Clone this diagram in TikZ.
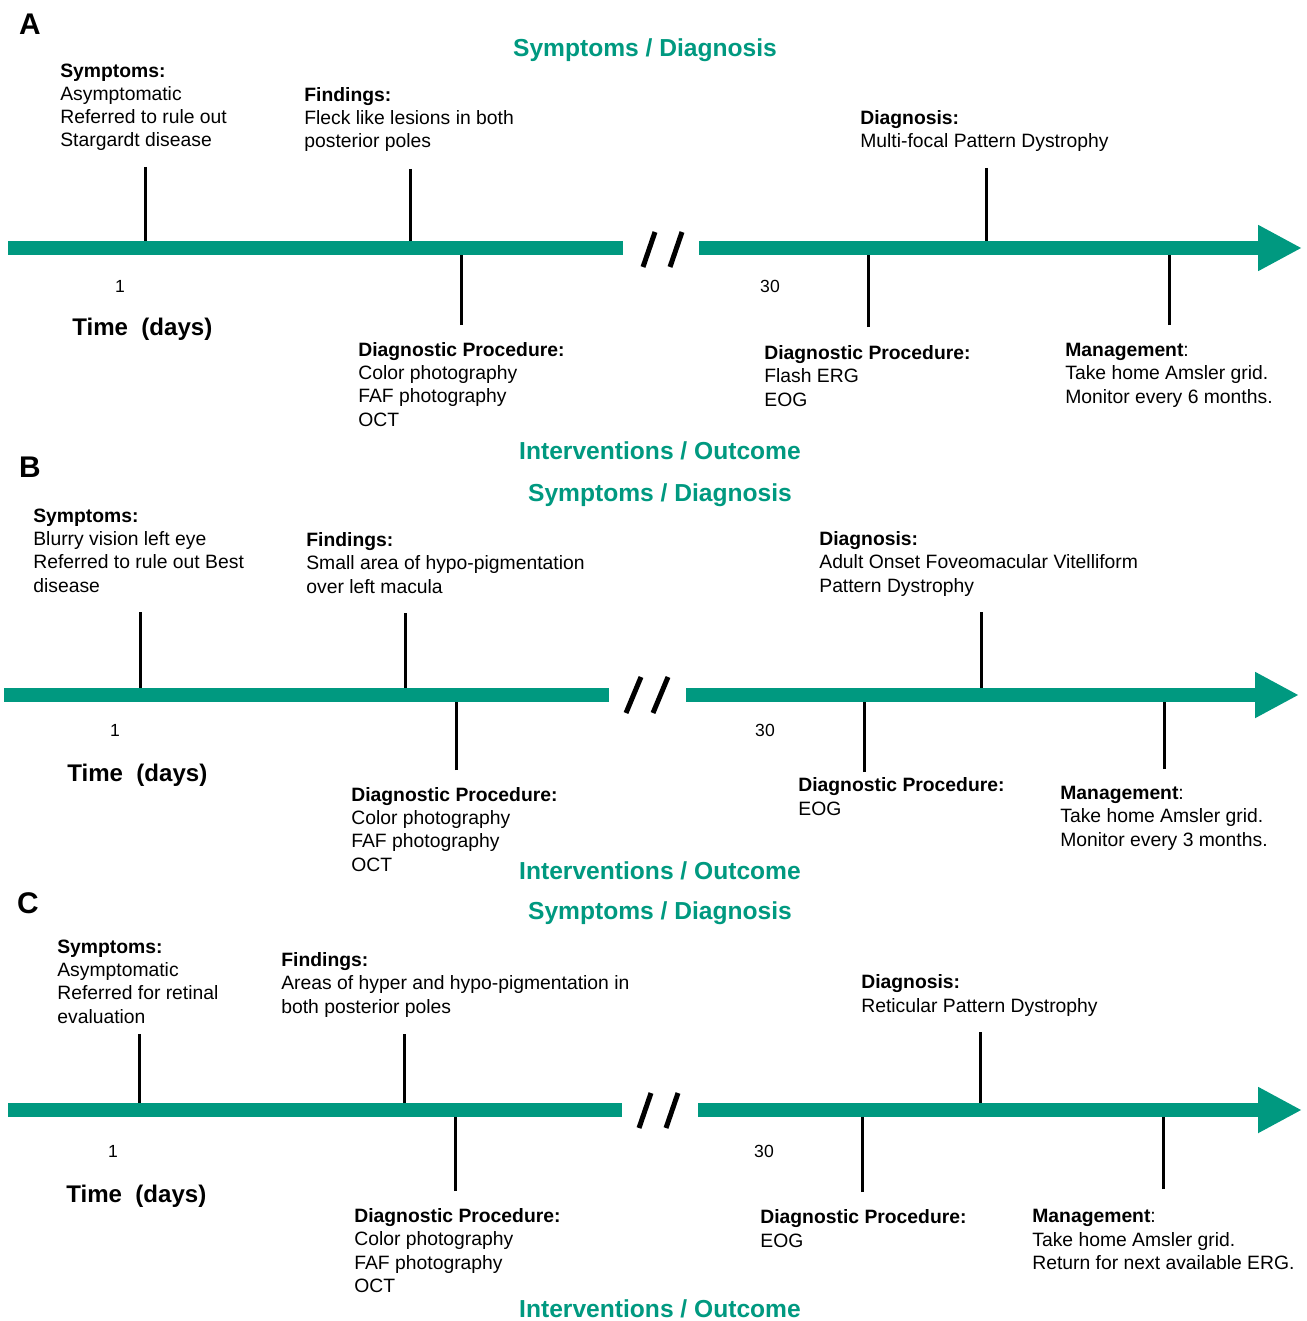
\documentclass[tikz,border=0pt]{standalone}
\usepackage{fontspec}
\setmainfont{Liberation Sans}
\usetikzlibrary{arrows.meta}
\definecolor{tlgreen}{RGB}{0,153,128}
\tikzstyle{bar} = [
    draw=tlgreen, line width=0.28cm
]
\tikzstyle{arrowbar} = [
    draw=tlgreen, line width=0.28cm,
    -{Triangle[width=0.86cm, length=0.88cm]}
]
\tikzstyle{tick} = [draw=black, line width=0.06cm]
\tikzstyle{slash} = [draw=black, line width=0.1cm]
% placed at the baseline of the last line
\tikzstyle{info} = [
    align=left, anchor=base west, inner sep=0pt,
    font=\fontsize{11}{13.1}\selectfont
]
\tikzstyle{phase} = [
    inner sep=0pt, text=tlgreen,
    font=\fontsize{14}{16}\selectfont\bfseries
]
\tikzstyle{panel} = [inner sep=0pt, font=\fontsize{17}{20}\selectfont\bfseries]
\tikzstyle{daynum} = [inner sep=0pt, font=\fontsize{10}{12}\selectfont]
\tikzstyle{timelabel} = [
    anchor=base west, inner sep=0pt,
    font=\fontsize{13.7}{16}\selectfont\bfseries
]

\begin{document}
\begin{tikzpicture}[x=0.02cm, y=-0.02cm]
    \useasboundingbox (0,0) rectangle (1307,1321);

    % ---------------- Panel A ----------------
    \node (labA) [panel] at (30,24) {A};
    \node (symdiagA) [phase] at (645,50) {Symptoms / Diagnosis};
    \node (intoutA) [phase] at (660,451) {Interventions / Outcome};

    \node (sympA) [info] at (60,147) {\textbf{Symptoms:}\\Asymptomatic\\Referred to rule out\\Stargardt disease};
    \node (findA) [info] at (304,148) {\textbf{Findings:}\\Fleck like lesions in both\\posterior poles};
    \node (diagA) [info] at (860,148) {\textbf{Diagnosis:}\\Multi-focal Pattern Dystrophy};
    \node (procA) [info] at (358,426) {\textbf{Diagnostic Procedure:}\\Color photography\\FAF photography\\OCT};
    \node (testA) [info] at (764,406) {\textbf{Diagnostic Procedure:}\\Flash ERG\\EOG};
    \node (mgmtA) [info] at (1065,403) {\textbf{Management}:\\Take home Amsler grid.\\Monitor every 6 months.};
    \node (dayA1) [daynum] at (120,286) {1};
    \node (dayA30) [daynum] at (770,286) {30};
    \node (timeA) [timelabel] at (72,335) {Time\ \ (days)};

    % ticks
    \coordinate (ta1) at (145,167);  \coordinate (ba1) at (145,248);
    \coordinate (ta2) at (410,169);  \coordinate (ba2) at (410,248);
    \coordinate (ta3) at (986,168);  \coordinate (ba3) at (986,248);
    \coordinate (ta4) at (461,325);  \coordinate (ba4) at (461,248);
    \coordinate (ta5) at (868,327);  \coordinate (ba5) at (868,248);
    \coordinate (ta6) at (1169,325); \coordinate (ba6) at (1169,248);
    \foreach \i in {1,...,6}
        \draw [tick] (ta\i) -- (ba\i);

    % time line
    \coordinate (lsA) at (8,248);   \coordinate (leA) at (623,248);
    \coordinate (rsA) at (699,248); \coordinate (reA) at (1302,248);
    \draw [bar] (lsA) -- (leA);
    \draw [arrowbar] (rsA) -- (reA);
    \coordinate (sa1) at (643,267); \coordinate (sa2) at (655,232);
    \coordinate (sa3) at (670,267); \coordinate (sa4) at (682,232);
    \draw [slash] (sa1) -- (sa2);
    \draw [slash] (sa3) -- (sa4);

    % ---------------- Panel B ----------------
    \node (labB) [panel] at (30,467) {B};
    \node (symdiagB) [phase] at (660,495) {Symptoms / Diagnosis};
    \node (intoutB) [phase] at (660,871) {Interventions / Outcome};

    \node (sympB) [info] at (33,592) {\textbf{Symptoms:}\\Blurry vision left eye\\Referred to rule out Best\\disease};
    \node (findB) [info] at (306,593) {\textbf{Findings:}\\Small area of hypo-pigmentation\\over left macula};
    \node (diagB) [info] at (819,592) {\textbf{Diagnosis:}\\Adult Onset Foveomacular Vitelliform\\Pattern Dystrophy};
    \node (procB) [info] at (351,871) {\textbf{Diagnostic Procedure:}\\Color photography\\FAF photography\\OCT};
    \node (testB) [info] at (798,815) {\textbf{Diagnostic Procedure:}\\EOG};
    \node (mgmtB) [info] at (1060,846) {\textbf{Management}:\\Take home Amsler grid.\\Monitor every 3 months.};
    \node (dayB1) [daynum] at (115,730) {1};
    \node (dayB30) [daynum] at (765,730) {30};
    \node (timeB) [timelabel] at (67,781) {Time\ \ (days)};

    % ticks
    \coordinate (tb1) at (140,612);  \coordinate (bb1) at (140,695);
    \coordinate (tb2) at (405,613);  \coordinate (bb2) at (405,695);
    \coordinate (tb3) at (981,612);  \coordinate (bb3) at (981,695);
    \coordinate (tb4) at (456,770);  \coordinate (bb4) at (456,695);
    \coordinate (tb5) at (864,772);  \coordinate (bb5) at (864,695);
    \coordinate (tb6) at (1164,769); \coordinate (bb6) at (1164,695);
    \foreach \i in {1,...,6}
        \draw [tick] (tb\i) -- (bb\i);

    % time line
    \coordinate (lsB) at (4,695);   \coordinate (leB) at (609,695);
    \coordinate (rsB) at (686,695); \coordinate (reB) at (1299,695);
    \draw [bar] (lsB) -- (leB);
    \draw [arrowbar] (rsB) -- (reB);
    \coordinate (sb1) at (626,713); \coordinate (sb2) at (641,677);
    \coordinate (sb3) at (653,713); \coordinate (sb4) at (668,677);
    \draw [slash] (sb1) -- (sb2);
    \draw [slash] (sb3) -- (sb4);

    % ---------------- Panel C ----------------
    \node (labC) [panel] at (28,903) {C};
    \node (symdiagC) [phase] at (660,913) {Symptoms / Diagnosis};
    \node (intoutC) [phase] at (660,1309) {Interventions / Outcome};

    \node (sympC) [info] at (57,1023) {\textbf{Symptoms:}\\Asymptomatic\\Referred for retinal\\evaluation};
    \node (findC) [info] at (281,1013) {\textbf{Findings:}\\Areas of hyper and hypo-pigmentation in\\both posterior poles};
    \node (diagC) [info] at (861,1012) {\textbf{Diagnosis:}\\Reticular Pattern Dystrophy};
    \node (procC) [info] at (354,1292) {\textbf{Diagnostic Procedure:}\\Color photography\\FAF photography\\OCT};
    \node (testC) [info] at (760,1247) {\textbf{Diagnostic Procedure:}\\EOG};
    \node (mgmtC) [info] at (1032,1269) {\textbf{Management}:\\Take home Amsler grid.\\Return for next available ERG.};
    \node (dayC1) [daynum] at (113,1151) {1};
    \node (dayC30) [daynum] at (764,1151) {30};
    \node (timeC) [timelabel] at (66,1202) {Time\ \ (days)};

    % ticks
    \coordinate (tc1) at (139,1034);  \coordinate (bc1) at (139,1110);
    \coordinate (tc2) at (404,1034);  \coordinate (bc2) at (404,1110);
    \coordinate (tc3) at (980,1032);  \coordinate (bc3) at (980,1110);
    \coordinate (tc4) at (455,1191);  \coordinate (bc4) at (455,1110);
    \coordinate (tc5) at (862,1192);  \coordinate (bc5) at (862,1110);
    \coordinate (tc6) at (1163,1189); \coordinate (bc6) at (1163,1110);
    \foreach \i in {1,...,6}
        \draw [tick] (tc\i) -- (bc\i);

    % time line
    \coordinate (lsC) at (8,1110);   \coordinate (leC) at (622,1110);
    \coordinate (rsC) at (698,1110); \coordinate (reC) at (1302,1110);
    \draw [bar] (lsC) -- (leC);
    \draw [arrowbar] (rsC) -- (reC);
    \coordinate (sc1) at (639,1128); \coordinate (sc2) at (651,1093);
    \coordinate (sc3) at (666,1128); \coordinate (sc4) at (678,1093);
    \draw [slash] (sc1) -- (sc2);
    \draw [slash] (sc3) -- (sc4);
\end{tikzpicture}
\end{document}
